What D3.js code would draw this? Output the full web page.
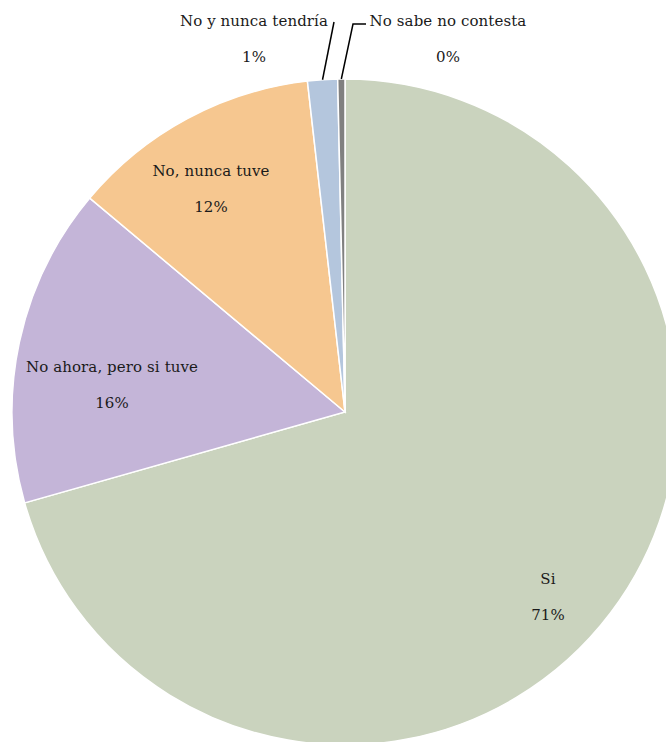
<!DOCTYPE html>
<html><head><meta charset="utf-8">
<script src="https://cdn.jsdelivr.net/npm/d3@7"></script>
<style>body{margin:0;background:#fff;overflow:hidden}</style>
</head><body>
<svg id="chart" width="666" height="742"></svg>
<script>
const categories = ["Si", "No ahora, pero si tuve", "No, nunca tuve", "No y nunca tendría", "No sabe no contesta"];
const values = [70.6, 15.5, 12.1, 1.45, 0.35];
const pctLabels = ["71%", "16%", "12%", "1%", "0%"];
const colors = ["#CAD3BE", "#C4B5D8", "#F6C790", "#B4C6DD", "#808080"];

const svg = d3.select("#chart");
const cx = 345, cy = 412, R = 333;
const g = svg.append("g").attr("transform", `translate(${cx},${cy})`);
const data = categories.map((c, i) => ({cat: c, value: values[i], pct: pctLabels[i], color: colors[i]}));
const pie = d3.pie().sort(null).value(d => d.value);
const arcs = pie(data);
const arc = d3.arc().innerRadius(0).outerRadius(R);

g.selectAll("path").data(arcs).join("path")
  .attr("d", arc).attr("fill", d => d.data.color)
  .attr("stroke", "#fff").attr("stroke-width", 1.5);

const font = "DejaVu Serif, serif";
// label anchor centres (page coords) for first-line baseline
const labelPos = [[548, 584], [112, 372], [211, 176], [254, 26], [448, 26]];
arcs.forEach((a, i) => {
  const [lx, ly] = labelPos[i];
  const t = svg.append("text").attr("text-anchor", "middle")
    .style("font-family", font).style("font-size", "15px").style("letter-spacing", "0.1px").attr("fill", "#1a1a1a");
  t.append("tspan").attr("x", lx).attr("y", ly).text(a.data.cat);
  t.append("tspan").attr("x", lx).attr("y", ly + 36).text(a.data.pct);
});

// leader lines for the two small slices
const leaders = [
  {i: 3, pts: [[334, 22]]},
  {i: 4, pts: [[353, 24], [366, 24]]}
];
leaders.forEach(o => {
  const a = arcs[o.i];
  const mid = (a.startAngle + a.endAngle) / 2;
  const p0 = [cx + Math.sin(mid) * R, cy - Math.cos(mid) * R];
  svg.append("path").attr("d", d3.line()([p0, ...o.pts])).attr("fill", "none")
    .attr("stroke", "#000").attr("stroke-width", 1.5);
});
</script>
</body></html>
